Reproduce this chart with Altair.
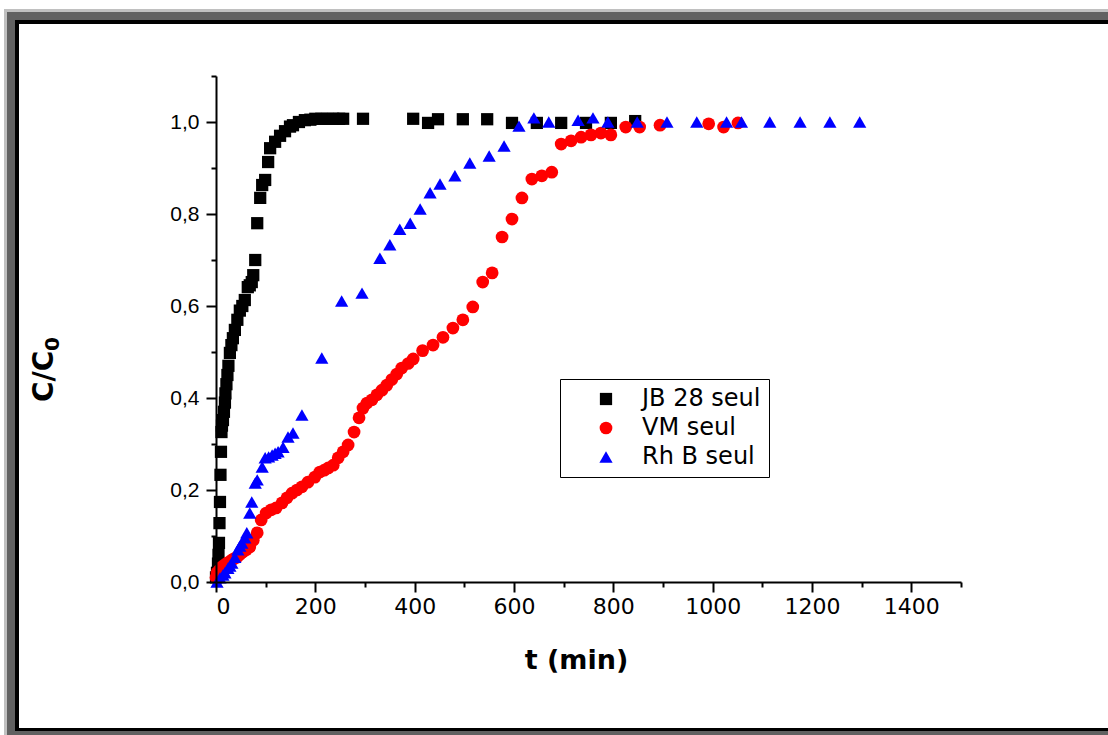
import altair as alt
import pandas as pd

# ---------------- data ----------------
series_names = ["JB 28 seul", "VM seul", "Rh B seul"]

t_jb = [0, 2, 4, 5, 6, 7, 8, 9, 10, 11, 12, 14, 16, 18, 19, 21, 23, 25, 28, 31, 34, 38, 43,
        48, 53, 58, 64, 68, 72, 75, 79, 83, 89, 93, 99, 105, 109, 119, 129, 139, 149, 155,
        167, 179, 190, 200, 212, 224, 236, 248, 256, 296, 397, 427, 447, 497, 546, 596,
        646, 695, 745, 795, 844]
v_jb = [0.01, 0.02, 0.04, 0.059, 0.085, 0.128, 0.174, 0.233, 0.283, 0.326, 0.34, 0.352,
        0.37, 0.39, 0.41, 0.43, 0.45, 0.47, 0.498, 0.515, 0.53, 0.548, 0.57, 0.59, 0.60,
        0.613, 0.641, 0.645, 0.652, 0.667, 0.70, 0.78, 0.835, 0.863, 0.874, 0.913, 0.943,
        0.957, 0.97, 0.98, 0.99, 0.993, 1.0, 1.004, 1.005, 1.007, 1.007, 1.007, 1.007,
        1.007, 1.007, 1.007, 1.007, 0.998, 1.006, 1.006, 1.006, 0.998, 0.998, 0.998,
        0.998, 0.998, 1.002]

t_vm = [0, 2, 6, 12, 17, 22, 27, 32, 37, 42, 48, 54, 61, 68, 75, 83, 91, 101, 111, 121,
        133, 143, 153, 163, 173, 185, 199, 209, 218, 226, 236, 246, 256, 266, 278, 288,
        296, 304, 314, 324, 334, 344, 354, 364, 374, 387, 397, 416, 437, 457, 477, 497,
        517, 537, 556, 576, 596, 616, 636, 656, 676, 695, 715, 735, 755, 775, 795, 825,
        853, 894, 992, 1022, 1051]
v_vm = [0.01, 0.02, 0.025, 0.033, 0.037, 0.041, 0.044, 0.048, 0.051, 0.054, 0.06, 0.065,
        0.07, 0.076, 0.091, 0.107, 0.135, 0.15, 0.157, 0.161, 0.172, 0.183, 0.193, 0.2,
        0.207, 0.217, 0.228, 0.239, 0.243, 0.248, 0.254, 0.27, 0.283, 0.298, 0.326,
        0.357, 0.378, 0.389, 0.396, 0.407, 0.417, 0.428, 0.44, 0.452, 0.465, 0.475,
        0.485, 0.503, 0.515, 0.532, 0.552, 0.57, 0.598, 0.652, 0.672, 0.75, 0.789, 0.835,
        0.876, 0.883, 0.891, 0.952, 0.959, 0.967, 0.972, 0.976, 0.972, 0.989, 0.989,
        0.993, 0.996, 0.989, 0.998]

t_rh = [2, 8, 14, 18, 24, 28, 32, 38, 44, 48, 52, 58, 62, 68, 72, 79, 83, 93, 99, 106,
        113, 119, 125, 135, 145, 155, 173, 213, 253, 294, 330, 350, 370, 391, 411, 431,
        451, 481, 511, 550, 580, 610, 640, 670, 729, 759, 789, 848, 908, 968, 1028, 1058,
        1115, 1176, 1236, 1296]
v_rh = [0.0, 0.009, 0.015, 0.02, 0.03, 0.035, 0.041, 0.054, 0.07, 0.078, 0.085, 0.096,
        0.107, 0.15, 0.174, 0.215, 0.222, 0.25, 0.27, 0.272, 0.276, 0.28, 0.283, 0.293,
        0.315, 0.324, 0.363, 0.487, 0.611, 0.628, 0.704, 0.733, 0.767, 0.78, 0.811, 0.846,
        0.865, 0.883, 0.911, 0.926, 0.948, 0.991, 1.009, 1.0, 1.004, 1.009, 1.0, 1.0,
        1.0, 1.0, 1.0, 1.0, 1.0, 1.0, 1.0, 1.0]

x_ticks = list(range(0, 1501, 100))
y_ticks = [round(i * 0.1, 1) for i in range(12)]

y_title_main = "C/C"
y_title_sub = "0"
x_title = "t (min)"

# ---------------- styling ----------------
colors = ["#000000", "#ff0000", "#0000ff"]
shapes = ["square", "circle", "triangle-up"]
sizes = [150, 175, 330]

W, H = 745, 506
PL, PT, PR, PB = 216, 76, 147, 153

frames = []
for k, (t, v) in enumerate([(t_jb, v_jb), (t_vm, v_vm), (t_rh, v_rh)]):
    frames.append(pd.DataFrame({"t": t, "v": v, "series": series_names[k], "k": k}))
df = pd.concat(frames, ignore_index=True)

dummy = pd.DataFrame({"a": [0]})


def frame_rect(x0, y0, x1, y1, col):
    return alt.Chart(dummy).mark_rect(color=col).encode(
        x=alt.value(x0 - PL), x2=alt.value(x1 - PL),
        y=alt.value(y0 - PT), y2=alt.value(y1 - PT))


frame_layers = [
    frame_rect(4, 9, 1130, 750, "#c0c0c0"),
    frame_rect(7, 12, 1130, 750, "#616161"),
    frame_rect(15, 20, 1130, 731, "#000000"),
    frame_rect(19, 24, 1130, 728, "#ffffff"),
]

# y-axis title with a real subscript (two text marks)
title_main = alt.Chart(dummy).mark_text(
    text=y_title_main, font="DejaVu Sans", fontSize=28, fontWeight="bold",
    angle=270, align="left", baseline="alphabetic", color="black",
).encode(x=alt.value(53 - PL), y=alt.value(402 - PT))
title_sub = alt.Chart(dummy).mark_text(
    text=y_title_sub, font="DejaVu Sans", fontSize=20, fontWeight="bold",
    angle=270, align="left", baseline="alphabetic", color="black",
).encode(x=alt.value(59 - PL), y=alt.value(351 - PT))

legend = alt.Legend(
    title=None, orient="none", legendX=344, legendY=303,
    strokeColor="black", fillColor="white", padding=8, cornerRadius=0,
    labelFont="DejaVu Sans", labelFontSize=24, labelColor="black",
    symbolOffset=26, labelOffset=24, rowPadding=5,
    symbolStrokeWidth=0, symbolOpacity=1, zindex=2,
)

points = alt.Chart(df).mark_point(filled=True, opacity=1, strokeWidth=0).encode(
    x=alt.X("t:Q", scale=alt.Scale(domain=[0, 1500], nice=False, zero=False),
            axis=alt.Axis(
                values=x_ticks, format="d", grid=False, zindex=1,
                labelExpr="datum.value % 200 === 0 ? datum.label : ''",
                tickSize={"condition": {"test": "datum.value % 200 === 0", "value": 10}, "value": 5},
                domainColor="black", domainWidth=2, tickColor="black", tickWidth=2,
                labelFont="DejaVu Sans", labelFontSize=22, labelColor="black",
                labelPadding=4,
                title=x_title, titleFont="DejaVu Sans", titleFontSize=27,
                titleFontWeight="bold", titleColor="black",
                titleX=360, titleY=86, titleBaseline="alphabetic", titleAlign="center",
            )),
    y=alt.Y("v:Q", scale=alt.Scale(domain=[0, 1.1], nice=False),
            axis=alt.Axis(
                values=y_ticks, grid=False, zindex=1, title=None,
                labelExpr="round(datum.value * 10) % 2 === 0 ? replace(format(datum.value, '.1f'), '.', ',') : ''",
                tickSize={"condition": {"test": "round(datum.value * 10) % 2 === 0", "value": 10}, "value": 5},
                domainColor="black", domainWidth=2, tickColor="black", tickWidth=2,
                labelFont="Liberation Sans", labelFontSize=21, labelColor="black",
                labelPadding=7,
            )),
    color=alt.Color("series:N", scale=alt.Scale(domain=series_names, range=colors), legend=legend),
    shape=alt.Shape("series:N", scale=alt.Scale(domain=series_names, range=shapes), legend=legend),
    size=alt.Size("series:N", scale=alt.Scale(domain=series_names, range=sizes), legend=legend),
    order=alt.Order("k:Q"),
)

chart = alt.layer(*frame_layers, title_main, title_sub, points).properties(
    width=W, height=H,
    autosize=alt.AutoSizeParams(type="none"),
    padding={"left": PL, "top": PT, "right": PR, "bottom": PB},
    background="white",
).configure_view(stroke=None).configure_legend(strokeWidth=1)

chart.save("out.html", embed_options={"renderer": "svg", "actions": False})
